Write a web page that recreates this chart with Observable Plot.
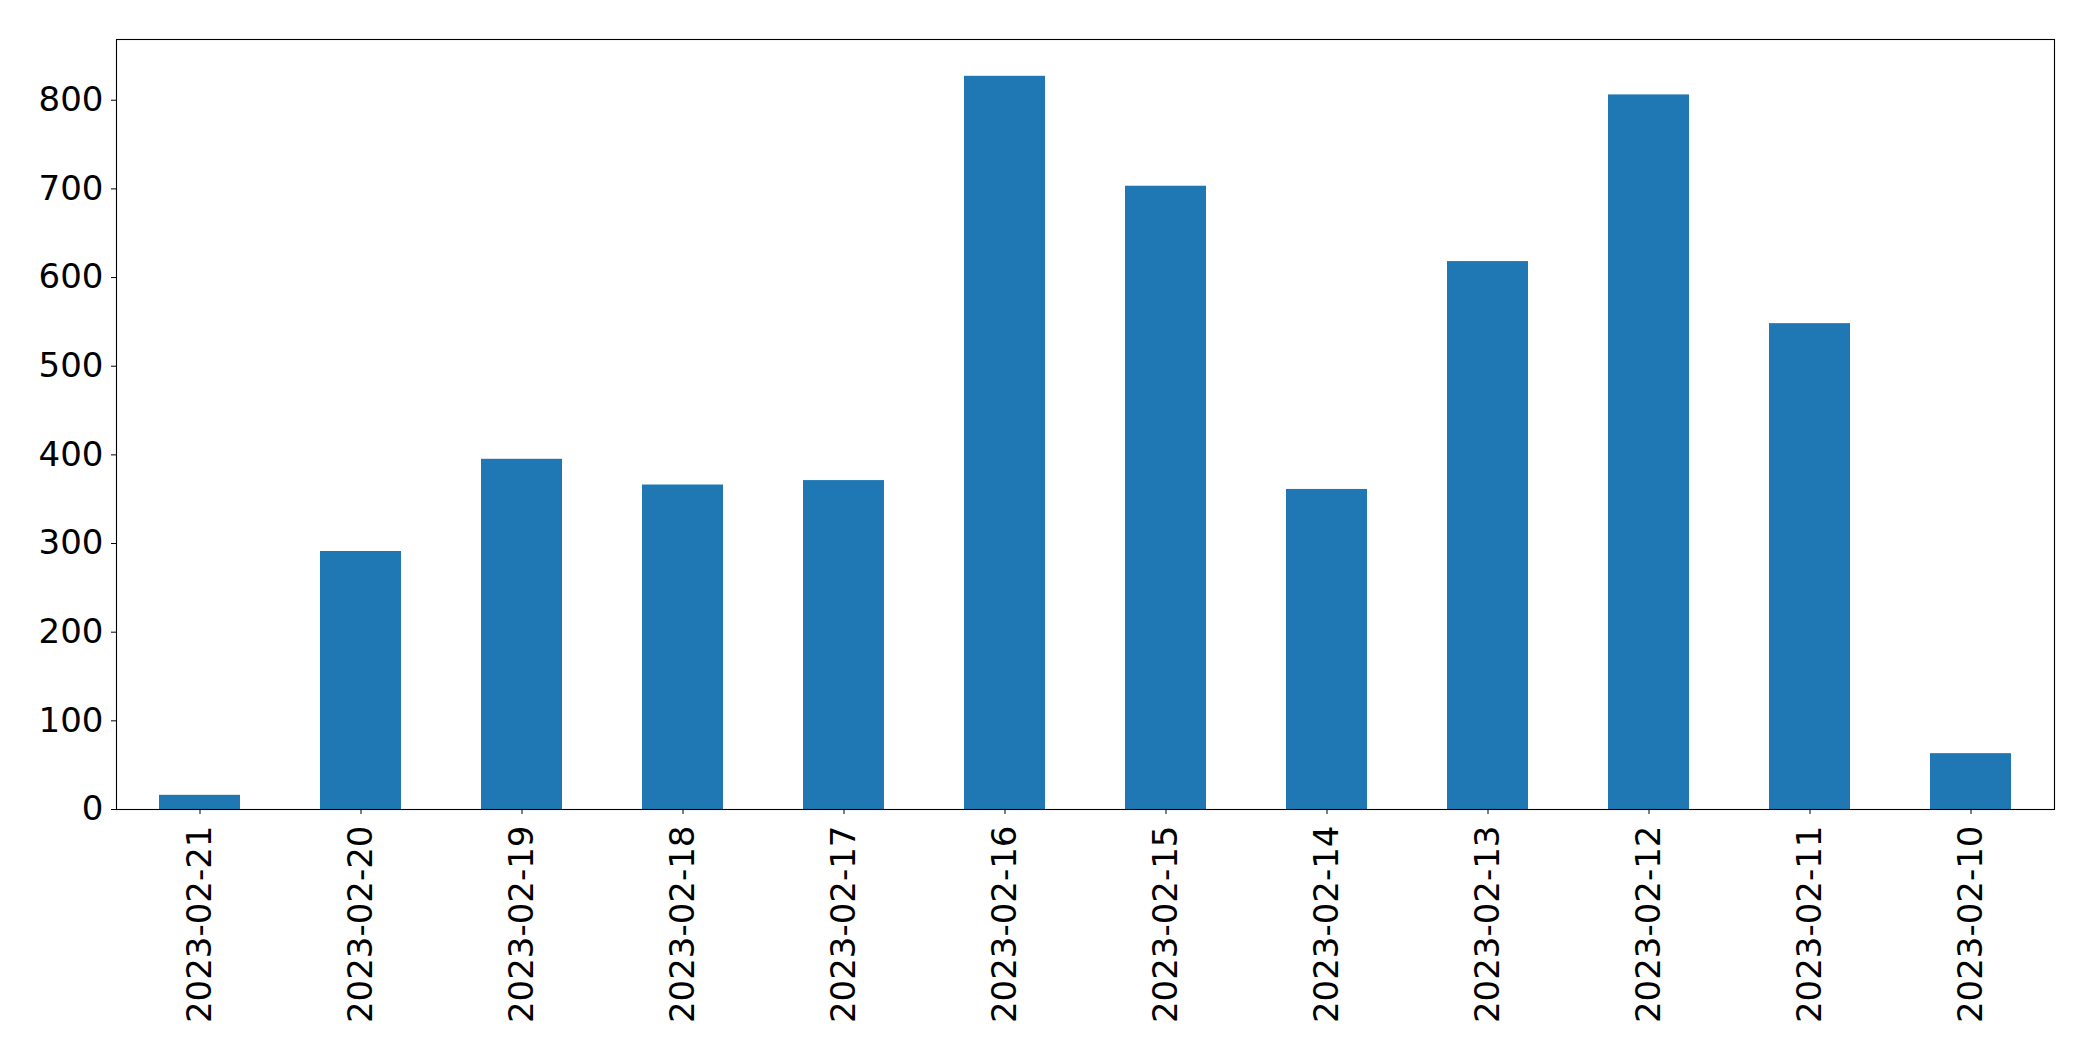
<!DOCTYPE html>
<html>
<head>
<meta charset="utf-8">
<script src="https://cdn.jsdelivr.net/npm/d3@7"></script>
<script src="https://cdn.jsdelivr.net/npm/@observablehq/plot@0.6"></script>
<style>
  html, body { margin: 0; padding: 0; background: #fff; }
  #chart svg { display: block; }
</style>
</head>
<body>
<div id="chart"></div>
<script>
const dates = ["2023-02-21","2023-02-20","2023-02-19","2023-02-18","2023-02-17","2023-02-16","2023-02-15","2023-02-14","2023-02-13","2023-02-12","2023-02-11","2023-02-10"];
const counts = [16, 291, 395, 366, 371, 827, 703, 361, 618, 806, 548, 63];
const yTicks = [0, 100, 200, 300, 400, 500, 600, 700, 800];

const data = dates.map((d, i) => ({date: d, count: counts[i]}));

const chart = Plot.plot({
  width: 2093,
  height: 1061,
  marginLeft: 116,
  marginRight: 39,
  marginTop: 39,
  marginBottom: 252,
  style: {fontFamily: "DejaVu Sans", fontSize: "34px", color: "black", background: "white"},
  x: {domain: dates, paddingInner: 0.5, paddingOuter: 0.25, label: null},
  y: {domain: [0, 868.5], label: null},
  marks: [
    Plot.barY(data, {x: "date", y: "count", fill: "#1f77b4"}),
    Plot.axisY({ticks: yTicks, tickSize: 5, tickPadding: 8, stroke: "black", fill: "black", label: null, fontSize: 34}),
    Plot.axisX({tickSize: 5, tickPadding: 11, tickRotate: -90, stroke: "black", fill: "black", label: null, fontSize: 34}),
    Plot.frame({stroke: "black", strokeWidth: 1.1})
  ]
});
document.getElementById("chart").appendChild(chart);
</script>
</body>
</html>
